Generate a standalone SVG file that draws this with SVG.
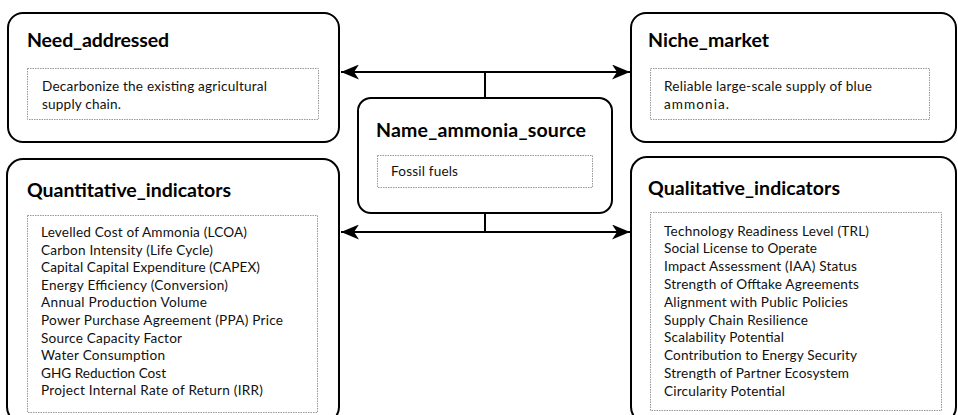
<svg xmlns="http://www.w3.org/2000/svg" width="958" height="415" viewBox="0 0 958 415">
<defs>
<marker id="ah" markerWidth="18" markerHeight="15" refX="18" refY="7.5" orient="auto" markerUnits="userSpaceOnUse">
<path d="M0,0 L18,7.5 L0,15 L5,7.5 Z" fill="#000"/>
</marker>
<style>
.box{fill:#fff;stroke:#000;stroke-width:2}
.inner{fill:#fff;stroke:#999;stroke-width:1;stroke-dasharray:1.5 1}
.title{font-family:Lato,"Liberation Sans",sans-serif;font-weight:bold;font-size:19.5px;fill:#000}
.txt{font-family:Lato,"Liberation Sans",sans-serif;font-size:13.6px;fill:#111}
.con{fill:none;stroke:#000;stroke-width:2}
</style>
</defs>
<rect width="958" height="415" fill="#fff"/>
<g id="connectors">
<line class="con" x1="485" y1="72" x2="341" y2="72" marker-end="url(#ah)"/>
<line class="con" x1="485" y1="72" x2="630" y2="72" marker-end="url(#ah)"/>
<line class="con" x1="485" y1="72" x2="485" y2="98"/>
<line class="con" x1="485" y1="232" x2="341" y2="232" marker-end="url(#ah)"/>
<line class="con" x1="485" y1="232" x2="630" y2="232" marker-end="url(#ah)"/>
<line class="con" x1="485" y1="213" x2="485" y2="232"/>
</g>
<g id="need_addressed">
<rect class="box" x="8" y="13" width="331" height="129" rx="15"/>
<text class="title" x="27" y="47" textLength="142">Need_addressed</text>
<rect class="inner" x="27.5" y="68.5" width="291" height="51"/>
<text class="txt" x="42" y="91" textLength="225">Decarbonize the existing agricultural</text>
<text class="txt" x="42" y="109" textLength="79">supply chain.</text>
</g>
<g id="niche_market">
<rect class="box" x="631" y="13" width="325" height="129" rx="15"/>
<text class="title" x="648" y="47" textLength="121">Niche_market</text>
<rect class="inner" x="650.5" y="68.5" width="279" height="51"/>
<text class="txt" x="664" y="91" textLength="208">Reliable large-scale supply of blue</text>
<text class="txt" x="664" y="109" textLength="65">ammonia.</text>
</g>
<g id="name_ammonia_source">
<rect class="box" x="358" y="98" width="254" height="115" rx="13"/>
<text class="title" x="376" y="137" textLength="210">Name_ammonia_source</text>
<rect class="inner" x="377.5" y="155.5" width="215" height="32"/>
<text class="txt" x="391" y="176" textLength="67">Fossil fuels</text>
</g>
<g id="quantitative_indicators">
<rect class="box" x="7" y="159" width="332" height="264" rx="16"/>
<text class="title" x="27" y="197" textLength="204">Quantitative_indicators</text>
<rect class="inner" x="27.5" y="215.5" width="290" height="197"/>
<text class="txt" x="41" y="237" textLength="206">Levelled Cost of Ammonia (LCOA)</text>
<text class="txt" x="41" y="254.6" textLength="172">Carbon Intensity (Life Cycle)</text>
<text class="txt" x="41" y="272.2" textLength="219">Capital Capital Expenditure (CAPEX)</text>
<text class="txt" x="41" y="289.8" textLength="187">Energy Efficiency (Conversion)</text>
<text class="txt" x="41" y="307.4" textLength="166">Annual Production Volume</text>
<text class="txt" x="41" y="325" textLength="242">Power Purchase Agreement (PPA) Price</text>
<text class="txt" x="41" y="342.6" textLength="141">Source Capacity Factor</text>
<text class="txt" x="41" y="360.2" textLength="124">Water Consumption</text>
<text class="txt" x="41" y="377.8" textLength="125">GHG Reduction Cost</text>
<text class="txt" x="41" y="395.4" textLength="222">Project Internal Rate of Return (IRR)</text>
</g>
<g id="qualitative_indicators">
<rect class="box" x="631" y="157" width="325" height="266" rx="16"/>
<text class="title" x="648" y="195" textLength="192">Qualitative_indicators</text>
<rect class="inner" x="650.5" y="212.5" width="291" height="198"/>
<text class="txt" x="664" y="235.5" textLength="205">Technology Readiness Level (TRL)</text>
<text class="txt" x="664" y="253.3" textLength="153">Social License to Operate</text>
<text class="txt" x="664" y="271.1" textLength="193">Impact Assessment (IAA) Status</text>
<text class="txt" x="664" y="288.9" textLength="195">Strength of Offtake Agreements</text>
<text class="txt" x="664" y="306.7" textLength="184">Alignment with Public Policies</text>
<text class="txt" x="664" y="324.5" textLength="144">Supply Chain Resilience</text>
<text class="txt" x="664" y="342.3" textLength="120">Scalability Potential</text>
<text class="txt" x="664" y="360.1" textLength="193">Contribution to Energy Security</text>
<text class="txt" x="664" y="377.9" textLength="185">Strength of Partner Ecosystem</text>
<text class="txt" x="664" y="395.7" textLength="121">Circularity Potential</text>
</g>
</svg>
